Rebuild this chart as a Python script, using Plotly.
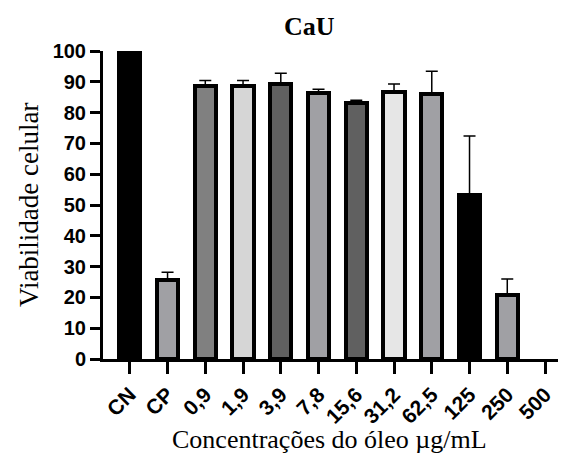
import plotly.graph_objects as go

categories = ["CN", "CP", "0,9", "1,9", "3,9", "7,8", "15,6", "31,2", "62,5", "125", "250", "500"]
viability = [100, 25.6, 88.6, 88.6, 89.4, 86.3, 83.0, 86.6, 85.9, 53.4, 20.7, 0]
error_up = [0, 2.6, 1.8, 1.8, 3.4, 1.3, 1.0, 2.7, 7.5, 19.0, 5.3, 0]
bar_colors = ["#000000", "#a0a0a4", "#808080", "#d6d6d6", "#606060", "#a0a0a4",
              "#606060", "#e6e6e6", "#a0a0a4", "#000000", "#a0a0a4", "rgba(0,0,0,0)"]
y_ticks = [0, 10, 20, 30, 40, 50, 60, 70, 80, 90, 100]

OFF = 8  # page body margin
W, H = 566 - OFF, 470 - OFF
L, R, T, B = 103 - OFF, 4, 51 - OFF, 111
PW, PH = W - L - R, H - T - B


def px(x):
    return (x - OFF - L) / PW


def py(y):
    return 1 - (y - OFF - T) / PH


line_widths = [0 if v == 0 else 4 for v in viability]
# only draw error bars where there is a positive deviation
err_x = [c for c, e in zip(categories, error_up) if e > 0]
err_y = [v for v, e in zip(viability, error_up) if e > 0]
err_v = [e for e in error_up if e > 0]

fig = go.Figure()
fig.add_trace(go.Bar(
    x=categories,
    y=viability,
    width=0.56,
    marker=dict(color=bar_colors, line=dict(color="#000000", width=line_widths)),
    showlegend=False,
))
fig.add_trace(go.Scatter(
    x=err_x, y=err_y, mode="markers",
    marker=dict(size=0.1, color="rgba(0,0,0,0)"),
    error_y=dict(type="data", array=err_v, arrayminus=[0] * len(err_v),
                 symmetric=False, color="#000000", thickness=1.5, width=6),
    showlegend=False, hoverinfo="skip",
))

fig.update_layout(
    width=W, height=H,
    margin=dict(l=L, r=R, t=T, b=B, pad=0, autoexpand=False),
    paper_bgcolor="white", plot_bgcolor="white",
    bargap=0,
    xaxis=dict(
        type="category", range=[-0.71, 11.45], automargin=False, layer="above traces",
        showline=True, linecolor="black", linewidth=3,
        ticks="outside", ticklen=12, tickwidth=3, tickcolor="black",
        tickangle=-45,
        tickfont=dict(family="Liberation Sans, Arial", size=21, color="black", weight="bold"),
        showgrid=False, zeroline=False,
    ),
    yaxis=dict(
        range=[0, 100], tickvals=y_ticks, automargin=False,
        showline=True, linecolor="black", linewidth=3,
        ticks="outside", ticklen=10, tickwidth=3, tickcolor="black",
        tickfont=dict(family="Liberation Sans, Arial", size=20, color="black", weight="bold"),
        showgrid=False, zeroline=False,
    ),
    annotations=[
        dict(text="<b>CaU</b>", x=px(309), y=py(27), xref="paper", yref="paper",
             xanchor="center", yanchor="middle", showarrow=False,
             font=dict(family="Liberation Serif, Times New Roman", size=26, color="black")),
        dict(text="Viabilidade celular", x=px(29), y=py(205), xref="paper", yref="paper",
             xanchor="center", yanchor="middle", showarrow=False, textangle=-90,
             font=dict(family="Liberation Serif, Times New Roman", size=27, color="black")),
        dict(text="Concentrações do óleo µg/mL", x=px(329), y=py(440), xref="paper", yref="paper",
             xanchor="center", yanchor="middle", showarrow=False,
             font=dict(family="Liberation Serif, Times New Roman", size=26, color="black")),
    ],
)

fig.write_html("out.html")
